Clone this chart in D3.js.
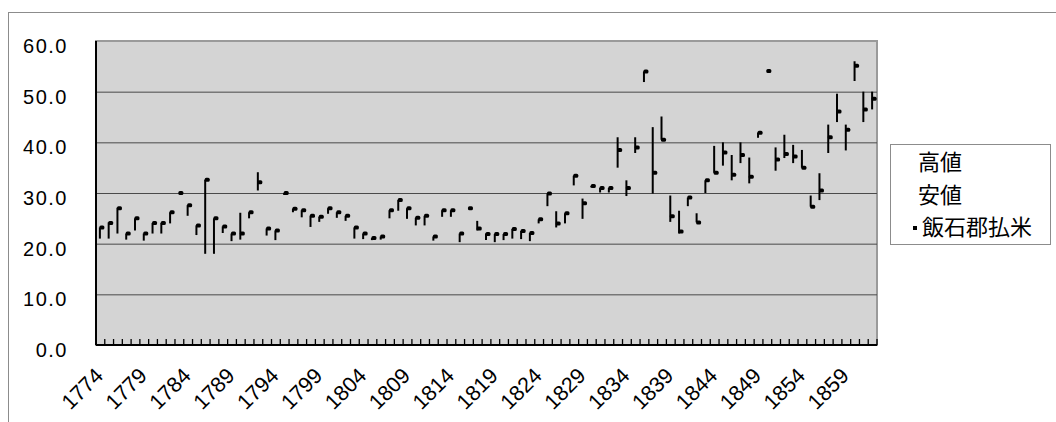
<!DOCTYPE html>
<html>
<head>
<meta charset="utf-8">
<script src="https://cdn.jsdelivr.net/npm/d3@7"></script>
<style>
  body { margin: 0; background: #fff; }
  svg { display: block; }
</style>
</head>
<body>
<div id="chart"></div>
<script>
// 飯石郡払米 — 高値 / 安値 / 終値 (1774–1862)
const firstYear = 1774;
const highs = [
  23.2, 24.2, 27.1, 22.0, 25.0, 22.0, 24.1, 24.1, 26.2, 30.0,
  27.6, 23.6, 32.6, 25.0, 23.4, 22.0, 26.1, 26.2, 34.1, 23.0,
  22.6, 30.0, 26.9, 26.6, 25.5, 25.3, 27.0, 26.2, 25.5, 23.2,
  22.0, 21.1, 21.4, 26.6, 28.6, 27.0, 25.1, 25.5, 21.4, 26.6,
  26.6, 22.0, 27.0, 24.5, 22.0, 21.9, 21.9, 22.9, 22.5, 22.1,
  24.8, 29.9, 26.4, 26.0, 33.4, 28.9, 31.4, 31.0, 31.0, 41.0,
  32.5, 41.0, 54.0, 43.0, 45.1, 29.5, 26.5, 29.1, 26.0, 32.5,
  39.3, 40.0, 37.5, 40.0, 37.0, 41.9, 54.1, 39.0, 41.5, 39.5,
  38.5, 29.5, 33.9, 43.5, 49.6, 43.5, 56.0, 50.0, 50.0
];
const lows = [
  21.0, 21.0, 22.0, 20.8, 22.6, 20.6, 22.0, 22.0, 24.0, 30.0,
  25.5, 21.7, 18.0, 18.0, 22.1, 20.5, 20.8, 25.0, 30.5, 21.6,
  20.7, 29.6, 26.2, 25.2, 23.3, 24.3, 25.9, 25.1, 24.5, 21.0,
  20.9, 20.7, 20.8, 25.0, 26.5, 24.9, 23.6, 23.6, 20.6, 25.3,
  25.3, 20.3, 27.0, 22.6, 20.7, 20.3, 20.7, 21.0, 20.9, 20.5,
  24.0, 27.4, 23.2, 24.0, 31.5, 24.9, 31.1, 30.1, 30.1, 35.0,
  29.4, 37.9, 51.9, 29.9, 40.5, 24.3, 22.0, 27.4, 24.2, 30.0,
  34.0, 35.4, 32.5, 35.9, 31.9, 40.9, 54.1, 34.4, 36.9, 35.9,
  35.0, 27.3, 28.6, 37.9, 44.0, 38.4, 52.1, 44.0, 46.5
];
const closes = [
  23.2, 24.1, 27.0, 22.0, 25.0, 22.0, 24.1, 24.1, 26.2, 30.0,
  27.6, 23.6, 32.6, 25.0, 23.4, 22.0, 22.0, 26.2, 32.1, 23.0,
  22.6, 30.0, 26.9, 26.6, 25.5, 25.3, 27.0, 26.2, 25.5, 23.2,
  22.0, 21.1, 21.4, 26.6, 28.6, 27.0, 25.1, 25.5, 21.4, 26.6,
  26.6, 22.0, 27.0, 23.0, 21.9, 21.9, 21.9, 22.9, 22.5, 22.1,
  24.8, 29.9, 24.0, 26.0, 33.4, 28.0, 31.4, 31.0, 31.0, 38.5,
  31.0, 39.0, 54.0, 34.0, 40.5, 25.4, 22.4, 29.1, 24.2, 32.5,
  34.0, 38.0, 33.6, 37.5, 33.2, 41.9, 54.1, 36.6, 37.7, 37.2,
  35.0, 27.3, 30.5, 41.0, 46.1, 42.5, 55.1, 46.5, 48.6
];
const years = highs.map((_, i) => firstYear + i);
const yTicks = [0, 10, 20, 30, 40, 50, 60];
const legendLabels = ["高値", "安値", "飯石郡払米"];

const width = 1056, height = 422;
const plot = { left: 96, right: 877, top: 41, bottom: 345 };
const numFont = "'Liberation Sans', Arial, sans-serif";

const svg = d3.select("#chart").append("svg")
  .attr("width", width)
  .attr("height", height);

// outer chart border
svg.append("rect")
  .attr("x", 8.5).attr("y", 12.5)
  .attr("width", width).attr("height", height)
  .attr("fill", "#fff")
  .attr("stroke", "#8c8c8c");

const x = d3.scaleBand()
  .domain(years)
  .range([plot.left, plot.right]);

const y = d3.scaleLinear()
  .domain([0, 60])
  .range([plot.bottom, plot.top]);

// plot area
svg.append("rect")
  .attr("x", plot.left).attr("y", plot.top)
  .attr("width", plot.right - plot.left)
  .attr("height", plot.bottom - plot.top)
  .attr("fill", "#d4d4d4")
  .attr("stroke", "#9a9a9a")
  .attr("stroke-width", 2);

// gridlines
svg.append("g")
  .attr("transform", `translate(${plot.left},0)`)
  .call(d3.axisLeft(y).tickValues(yTicks.slice(1, -1)).tickSize(-(plot.right - plot.left)).tickFormat(""))
  .call(g => g.select(".domain").remove())
  .selectAll("line").attr("stroke", "#4a4a4a");

// y axis labels
svg.append("g")
  .attr("transform", `translate(${plot.left},0)`)
  .call(d3.axisLeft(y).tickValues(yTicks).tickFormat(d3.format(".1f")).tickSize(0).tickPadding(28))
  .call(g => g.select(".domain").remove())
  .selectAll("text")
  .attr("dy", "0.58em")
  .style("font-family", numFont)
  .style("font-size", "20px")
  .style("letter-spacing", "1.5px")
  .attr("fill", "#000");

// axis lines
svg.append("line")
  .attr("x1", plot.left).attr("x2", plot.left)
  .attr("y1", plot.top).attr("y2", plot.bottom)
  .attr("stroke", "#000").attr("stroke-width", 2);
svg.append("line")
  .attr("x1", plot.left).attr("x2", plot.right)
  .attr("y1", plot.bottom).attr("y2", plot.bottom)
  .attr("stroke", "#000").attr("stroke-width", 2);

// category tick marks (between categories, pointing inside)
const bounds = d3.range(years.length + 1).map(k => x(firstYear) + k * x.step());
svg.append("g").selectAll("line")
  .data(bounds.slice(1))
  .join("line")
  .attr("x1", d => d).attr("x2", d => d)
  .attr("y1", plot.bottom).attr("y2", plot.bottom - 6)
  .attr("stroke", "#000").attr("stroke-width", 1.3);

// x labels
svg.append("g").selectAll("text")
  .data(years.filter((d, i) => i % 5 === 0))
  .join("text")
  .attr("transform", d => `translate(${x(d) + x.bandwidth() / 2 + 4},377) rotate(-45)`)
  .attr("text-anchor", "end")
  .style("font-family", numFont)
  .style("font-size", "21.5px")
  .text(d => d);

// high-low lines and close markers
const cx = d => x(d) + x.bandwidth() / 2;
const marks = svg.append("g");
marks.selectAll("line")
  .data(years)
  .join("line")
  .attr("x1", d => cx(d) - 0.5).attr("x2", d => cx(d) - 0.5)
  .attr("y1", (d, i) => y(highs[i]))
  .attr("y2", (d, i) => y(lows[i]))
  .attr("stroke", "#000")
  .attr("stroke-width", 2);
marks.selectAll("rect")
  .data(years)
  .join("rect")
  .attr("x", d => cx(d) - 1)
  .attr("y", (d, i) => y(closes[i]) - 2)
  .attr("width", 5).attr("height", 4)
  .attr("rx", 1.5)
  .attr("fill", "#000");

// legend
const legend = svg.append("g");
legend.append("rect")
  .attr("x", 890.5).attr("y", 144.5)
  .attr("width", 160).attr("height", 100)
  .attr("fill", "#fff")
  .attr("stroke", "#8c8c8c");
legend.selectAll("text")
  .data(legendLabels)
  .join("text")
  .attr("x", (d, i) => i === 2 ? 922 : 918)
  .attr("y", (d, i) => 170 + i * 32.5)
  .style("font-family", "'Noto Sans CJK JP', sans-serif")
  .style("font-size", "22px")
  .text(d => d);
legend.append("rect")
  .attr("x", 913).attr("y", 226)
  .attr("width", 4).attr("height", 4)
  .attr("fill", "#000");
</script>
</body>
</html>
